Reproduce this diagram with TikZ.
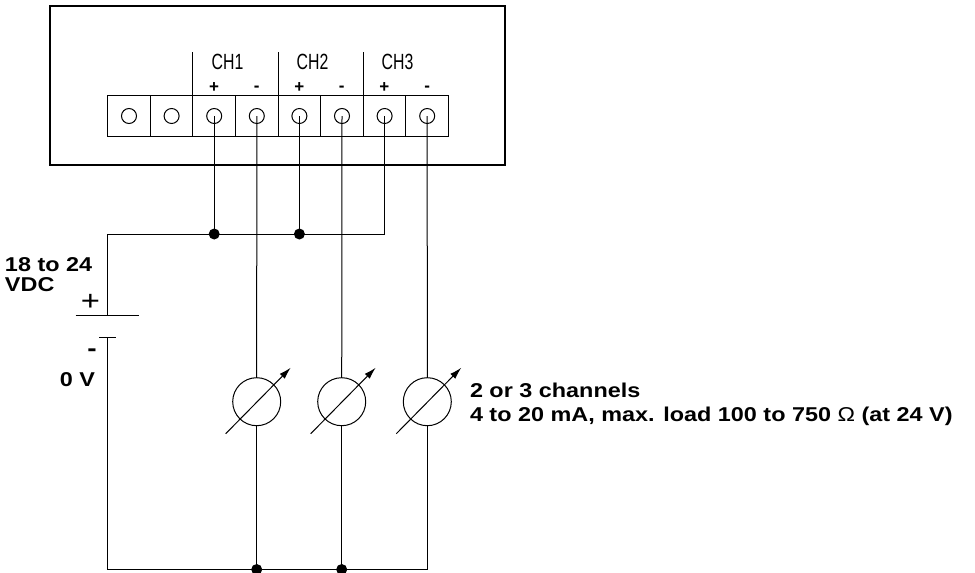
\documentclass[tikz,border=0pt]{standalone}
\usepackage{fontspec}
\setmainfont{Liberation Sans}
\newfontfamily\widefont[FakeStretch=1.17]{Liberation Sans}
\newfontfamily\narrowfont[FakeStretch=0.72]{Liberation Sans}
\usetikzlibrary{calc,positioning,arrows.meta}

\begin{document}
\begin{tikzpicture}[x=1pt, y=-1pt, line width=1pt,
  every node/.style={inner sep=0pt, outer sep=0pt},
  cell/.style={draw, rectangle, minimum width=42.6pt, minimum height=41.7pt},
  term/.style={draw, circle, minimum size=15pt},
  meter/.style={draw, circle, minimum size=48pt},
  lbl/.style={font=\widefont\bfseries\fontsize{20}{24}\selectfont},
  chlbl/.style={font=\narrowfont\fontsize{22}{24}\selectfont},
  pol/.style={font=\bfseries\fontsize{17}{18}\selectfont},
  dot/.style={fill, circle, minimum size=11pt}]
  \useasboundingbox (0,0) rectangle (975,573);
  % housing and terminal strip
  \node[draw, line width=1.2pt, minimum width=455pt, minimum height=159pt] (unit) at (277.5,85.5) {};
  \node[cell] (c1) at (129,116) {};
  \node[cell, right = 0pt of c1] (c2) {};
  \node[cell, right = 0pt of c2] (c3) {};
  \node[cell, right = 0pt of c3] (c4) {};
  \node[cell, right = 0pt of c4] (c5) {};
  \node[cell, right = 0pt of c5] (c6) {};
  \node[cell, right = 0pt of c6] (c7) {};
  \node[cell, right = 0pt of c7] (c8) {};
  \node[term] (t1) at (c1) {};
  \node[term] (t2) at (c2) {};
  \node[term] (t3) at (c3) {};
  \node[term] (t4) at (c4) {};
  \node[term] (t5) at (c5) {};
  \node[term] (t6) at (c6) {};
  \node[term] (t7) at (c7) {};
  \node[term] (t8) at (c8) {};
  \draw (c3.north west) -- ++(0,-43.3);
  \draw (c5.north west) -- ++(0,-43.3);
  \draw (c7.north west) -- ++(0,-43.3);
  \node[chlbl, anchor=base] (ch1) at (227.5,69.3) {CH1};
  \node[chlbl, anchor=base] (ch2) at (312.5,69.3) {CH2};
  \node[chlbl, anchor=base] (ch3) at (397.5,69.3) {CH3};
  \node[pol] (p1) at (214,87.5) {+};
  \node[pol] (n1) at (256.7,88.5) {-};
  \node[pol] (p2) at (299.3,87.5) {+};
  \node[pol] (n2) at (341.7,88.5) {-};
  \node[pol] (p3) at (384.3,87.5) {+};
  \node[pol] (n3) at (427.3,88.5) {-};
  % meters
  \node[meter] (m1) at (256.7,401.7) {};
  \node[meter] (m2) at (341.7,401.7) {};
  \node[meter] (m3) at (427.3,401.7) {};
  \draw[-{Latex[length=12pt,width=7pt]}] ([shift={(-31,32)}]m1.center) -- ([shift={(34,-34)}]m1.center);
  \draw[-{Latex[length=12pt,width=7pt]}] ([shift={(-31,32)}]m2.center) -- ([shift={(34,-34)}]m2.center);
  \draw[-{Latex[length=12pt,width=7pt]}] ([shift={(-31,32)}]m3.center) -- ([shift={(34,-34)}]m3.center);
  % supply
  \coordinate (k1) at (107.3,234);
  \coordinate (bp) at (107.3,315.7);
  \coordinate (bn) at (107.3,337.3);
  \coordinate (b1) at (107.3,569.5);
  \node[dot] (j1) at (t3 |- k1) {};
  \node[dot] (j2) at (t5 |- k1) {};
  \node[dot] (j3) at (m1 |- b1) {};
  \node[dot] (j4) at (m2 |- b1) {};
  \draw (bp) -- (k1) -- (t7 |- k1) -- (t7.center);
  \draw (t3.center) -- (j1.center);
  \draw (t5.center) -- (j2.center);
  \draw ([xshift=-31.6pt]bp) -- ([xshift=32pt]bp);
  \draw ([xshift=-8pt]bn) -- ([xshift=8.4pt]bn);
  \draw (bn) -- (b1) -- (m3 |- b1) -- (m3);
  \draw (t4.center) -- (m1);
  \draw (t6.center) -- (m2);
  \draw (t8.center) -- (m3);
  \draw (m1) -- (j3.center);
  \draw (m2) -- (j4.center);
  % labels
  \node[lbl, anchor=base west] (volt) at (5,271.7) {18 to 24};
  \node[lbl, anchor=base west] (vdc) at (5,291.7) {VDC};
  \node[font=\widefont\fontsize{28}{30}\selectfont] (plus) at (90.5,302.5) {+};
  \node[lbl, font=\widefont\bfseries\fontsize{24}{24}\selectfont] (minus) at (92,352.7) {-};
  \node[lbl, anchor=base east] (zero) at (95,386.7) {0 V};
  \node[lbl, anchor=base west] (chan) at (470,397.7) {2 or 3 channels};
  \node[lbl, anchor=base west] (spec) at ([yshift=-24pt]chan.base west) {4 to 20 mA, max. load 100 to 750 {\mdseries Ω} (at 24 V)};
\end{tikzpicture}
\end{document}
